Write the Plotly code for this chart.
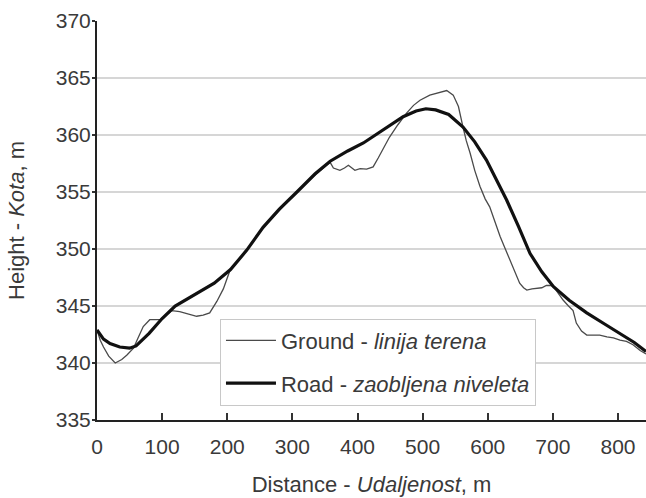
import plotly.graph_objects as go

# ---- data ----
road_x = [0, 10, 20, 35, 50, 60, 80, 100, 120, 150, 180, 205, 230, 255, 280, 307, 335, 358,
          385, 409, 440, 470, 490, 505, 520, 540, 562, 580, 598, 615, 629, 647, 665, 683,
          701, 725, 752, 780, 803, 825, 843]
road_y = [342.9, 342.1, 341.7, 341.4, 341.3, 341.5, 342.6, 343.9, 345.0, 346.0, 347.0, 348.2,
          349.9, 351.9, 353.5, 355.0, 356.6, 357.7, 358.6, 359.3, 360.5, 361.6, 362.1, 362.3,
          362.2, 361.8, 360.7, 359.4, 357.8, 355.9, 354.3, 352.0, 349.6, 348.0, 346.7, 345.5,
          344.4, 343.4, 342.6, 341.8, 341.0]

ground_x = [0, 5, 10, 18, 28, 38, 46, 56, 63, 71, 81, 90, 97, 106, 115, 127, 140, 153, 163,
            173, 184, 194, 204, 230, 255, 280, 307, 335, 358, 363, 373, 380, 386, 396, 404,
            414, 424, 432, 439, 449, 462, 475, 486, 496, 511, 525, 537, 547, 555, 562, 567,
            573, 580, 588, 596, 603, 611, 619, 627, 634, 642, 649, 655, 660, 668, 675, 683,
            690, 696, 701, 708, 716, 724, 731, 736, 744, 752, 762, 772, 783, 793, 803, 813,
            823, 834, 843]
ground_y = [342.9, 342.0, 341.4, 340.6, 340.0, 340.3, 340.7, 341.3, 342.2, 343.2, 343.8, 343.8,
            343.8, 344.2, 344.6, 344.5, 344.3, 344.1, 344.2, 344.4, 345.4, 346.5, 348.1, 349.9,
            351.9, 353.4, 355.0, 356.5, 357.6, 357.1, 356.9, 357.1, 357.35, 356.9, 357.05,
            357.0, 357.2, 358.0, 358.7, 359.8, 360.9, 361.9, 362.6, 363.05, 363.5, 363.7, 363.9,
            363.5, 362.5, 360.7, 359.5, 358.4, 356.9, 355.5, 354.4, 353.7, 352.3, 351.1, 350.0,
            349.0, 347.9, 347.0, 346.6, 346.4, 346.5, 346.55, 346.6, 346.8, 346.8, 346.7, 346.1,
            345.5, 345.0, 344.6, 343.5, 342.8, 342.45, 342.45, 342.45, 342.3, 342.2, 342.0,
            341.9, 341.6, 341.1, 340.8]

x_ticks = [0, 100, 200, 300, 400, 500, 600, 700, 800]
y_ticks = [335, 340, 345, 350, 355, 360, 365, 370]

FONT = "Liberation Sans, Arial, sans-serif"
TXT = "#3a3a3a"

fig = go.Figure()
fig.add_trace(go.Scatter(
    x=ground_x, y=ground_y, mode="lines", name="Ground - <i>linija terena</i>",
    line=dict(color="#4a4a4a", width=1.3), legendgroup="g1"))
fig.add_trace(go.Scatter(
    x=road_x, y=road_y, mode="lines", name="Road - <i>zaobljena niveleta</i>",
    line=dict(color="#111111", width=3.2), legendgroup="g2"))

fig.update_layout(
    width=646, height=498,
    margin=dict(l=97, r=0, t=21, b=78, autoexpand=False),
    paper_bgcolor="white", plot_bgcolor="white",
    font=dict(family=FONT, size=22, color=TXT),
    showlegend=True,
    legend=dict(
        x=0.224, y=0.254, xanchor="left", yanchor="top",
        bgcolor="white", bordercolor="#c8c8c8", borderwidth=1,
        font=dict(family=FONT, size=22, color=TXT),
        tracegroupgap=11, itemwidth=50,
    ),
)
fig.update_xaxes(
    range=[0, 843], tickvals=x_ticks, ticktext=[str(v) for v in x_ticks],
    showgrid=False, zeroline=False, automargin=False,
    showline=True, linecolor="#222222", linewidth=2,
    ticks="inside", ticklen=7, tickwidth=1.5, tickcolor="#333333",
    ticklabelstandoff=7,
    tickfont=dict(family=FONT, size=21, color=TXT),
    title=dict(text="Distance - <i>Udaljenost</i>, m", font=dict(family=FONT, size=22, color=TXT), standoff=19),
)
fig.update_yaxes(
    range=[335, 370], tickvals=y_ticks, ticktext=[str(v) for v in y_ticks],
    showgrid=True, gridcolor="#d6d6d6", gridwidth=1.5, zeroline=False, automargin=False,
    showline=True, linecolor="#222222", linewidth=2,
    ticks="outside", ticklen=3, tickwidth=1.5, tickcolor="#333333",
    ticklabelstandoff=-3,
    tickfont=dict(family=FONT, size=21, color=TXT),
    title=dict(text="Height - <i>Kota</i>, m", font=dict(family=FONT, size=22, color=TXT), standoff=25),
)

# remove the default 8 px page margin so the 646x498 figure fills the window exactly
fig.write_html(
    "out.html",
    config={"displayModeBar": False},
    post_script="document.body.style.margin='0';document.body.style.overflow='hidden';",
)
